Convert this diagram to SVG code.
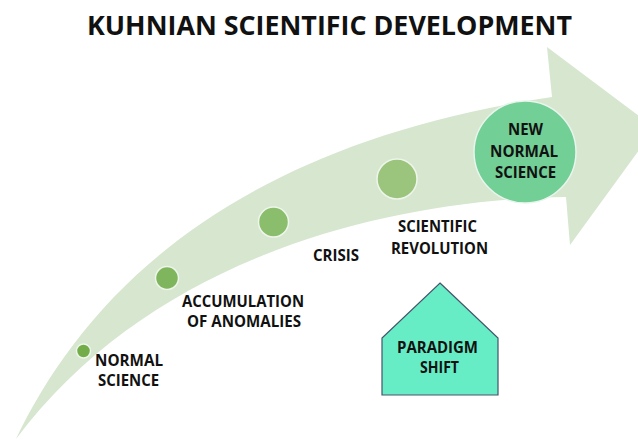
<svg xmlns="http://www.w3.org/2000/svg" width="638" height="441" viewBox="0 0 638 441">
  <style>
    .t { font-family: "Open Sans", "Liberation Sans", sans-serif; font-weight: 700; fill: #111; }
    .lbl { font-size: 16px; }
    .dot { stroke: #eef5ea; stroke-width: 1.5; }
  </style>
  <rect width="638" height="441" fill="#ffffff"/>

  <text class="t" x="87" y="35" font-size="27" textLength="485" lengthAdjust="spacingAndGlyphs">KUHNIAN SCIENTIFIC DEVELOPMENT</text>

  <!-- curved progress arrow -->
  <g id="connectors">
    <path id="progress-arrow" fill="#d6e6cf"
          d="M16,439 C85,295 230,145 552,97 L547,47 L655,128 L570,245 L566,197 C380,200 150,260 16,439 Z"/>
  </g>

  <g id="normal-science">
    <circle class="dot" cx="83.5" cy="351" r="7" fill="#72ad4a"/>
    <text class="t lbl" x="95" y="366" textLength="68" lengthAdjust="spacingAndGlyphs">NORMAL</text>
    <text class="t lbl" x="98" y="386" textLength="61" lengthAdjust="spacingAndGlyphs">SCIENCE</text>
  </g>

  <g id="accumulation">
    <circle class="dot" cx="167" cy="278" r="11.5" fill="#7fb55c"/>
    <text class="t lbl" x="182" y="307" textLength="122" lengthAdjust="spacingAndGlyphs">ACCUMULATION</text>
    <text class="t lbl" x="187" y="327" textLength="114" lengthAdjust="spacingAndGlyphs">OF ANOMALIES</text>
  </g>

  <g id="crisis">
    <circle class="dot" cx="273.5" cy="222" r="15" fill="#8abd6c"/>
    <text class="t lbl" x="313" y="261" textLength="46" lengthAdjust="spacingAndGlyphs">CRISIS</text>
  </g>

  <g id="scientific-revolution">
    <circle class="dot" cx="397" cy="179" r="20" fill="#9bc47d"/>
    <text class="t lbl" x="398" y="232" textLength="79" lengthAdjust="spacingAndGlyphs">SCIENTIFIC</text>
    <text class="t lbl" x="391" y="254" textLength="97" lengthAdjust="spacingAndGlyphs">REVOLUTION</text>
  </g>

  <g id="new-normal-science">
    <circle cx="525" cy="152" r="51" fill="#72cf96" stroke="#e8f4ec" stroke-width="1.5"/>
    <text class="t lbl" x="508" y="135" textLength="35" lengthAdjust="spacingAndGlyphs">NEW</text>
    <text class="t lbl" x="490" y="157" textLength="68" lengthAdjust="spacingAndGlyphs">NORMAL</text>
    <text class="t lbl" x="495" y="178" textLength="61" lengthAdjust="spacingAndGlyphs">SCIENCE</text>
  </g>

  <g id="paradigm-shift">
    <path d="M440,283 L498,338 L498,395 L382,395 L382,338 Z" fill="#66edc6" stroke="#44546a" stroke-width="1.2"/>
    <text class="t lbl" x="397" y="353" textLength="81" lengthAdjust="spacingAndGlyphs">PARADIGM</text>
    <text class="t lbl" x="420" y="373" textLength="39" lengthAdjust="spacingAndGlyphs">SHIFT</text>
  </g>
</svg>
